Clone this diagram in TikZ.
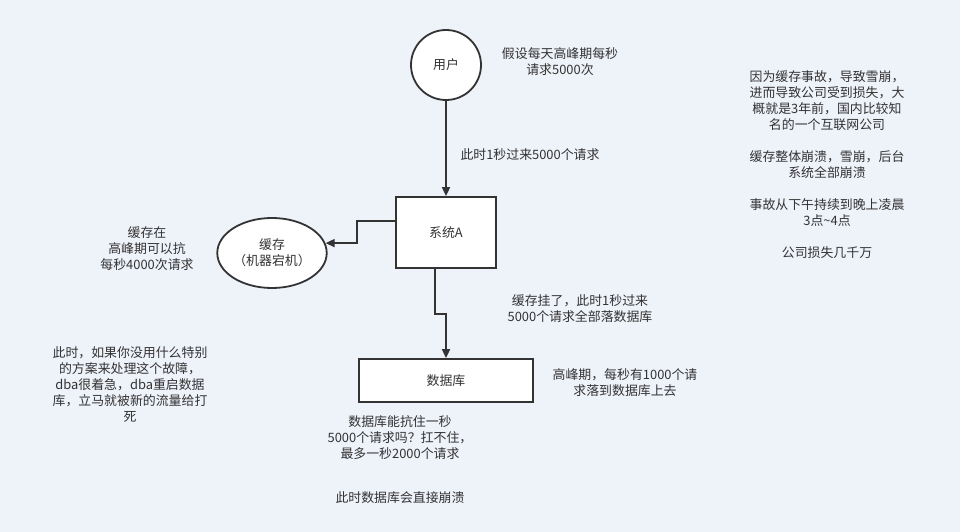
\documentclass[tikz,border=0pt]{standalone}
\usepackage{fontspec}
\setmainfont{Noto Sans CJK SC}
\usetikzlibrary{arrows.meta,shapes.geometric,calc}
\definecolor{bg}{RGB}{238,242,249}
\definecolor{ink}{RGB}{51,51,51}
\begin{document}
\begin{tikzpicture}[x=1pt,y=-1pt,
  every node/.style={text=ink,font=\fontsize{12.9}{16}\selectfont,inner sep=0pt},
  shp/.style={draw=ink,line width=1.8pt,fill=white},
  arr/.style={draw=ink,line width=1.8pt,-{Triangle[length=9pt,width=8pt]}},
  note/.style={align=center}]
\fill[bg] (0,0) rectangle (960,532);
\useasboundingbox (0,0) rectangle (960,532);

\node[shp,circle,minimum size=70pt] (user) at (446,65) {用户};
\node[shp,rectangle,minimum width=100pt,minimum height=71pt] (sysA) at (446,232.5) {系统A};
\node[shp,ellipse,minimum width=102pt,minimum height=70pt,align=center] (cache) at (272,253) {缓存\\（机器宕机）};
\node[shp,rectangle,minimum width=174pt,minimum height=43pt] (db) at (446,380.5) {数据库};

\draw[arr] (user) -- (sysA);
\coordinate (p1) at ($(sysA.north west)+(0,25)$);
\coordinate (p2) at ($(p1)+(-38,0)$);
\coordinate (p3) at ($(p2)+(0,22)$);
\draw[arr] (p1) -- (p2) -- (p3) -- (p3 -| cache.10);
\coordinate (q1) at ($(sysA.south)+(-11,0)$);
\coordinate (q2) at ($(q1)+(0,45)$);
\draw[arr] (q1) -- (q2) -- (q2 -| db.north) -- (db.north);

\node[note] (t1) at (560,62) {假设每天高峰期每秒\\请求5000次};
\node[note] (t2) at (530,155) {此时1秒过来5000个请求};
\node[note] (t3) at (147,249) {缓存在\\高峰期可以抗\\每秒4000次请求};
\node[note] (t4) at (130,384) {此时，如果你没用什么特别\\的方案来处理这个故障，\\dba很着急，dba重启数据\\库，立马就被新的流量给打\\死};
\node[note] (t5) at (827,165) {因为缓存事故，导致雪崩，\\进而导致公司受到损失，大\\概就是3年前，国内比较知\\名的一个互联网公司\\[16pt]缓存整体崩溃，雪崩，后台\\系统全部崩溃\\[16pt]事故从下午持续到晚上凌晨\\3点\textasciitilde 4点\\[16pt]公司损失几千万};
\node[note] (t6) at (580,309) {缓存挂了，此时1秒过来\\5000个请求全部落数据库};
\node[note] (t7) at (625,383) {高峰期，每秒有1000个请\\求落到数据库上去};
\node[note] (t8) at (400,438) {数据库能抗住一秒\\5000个请求吗？扛不住，\\最多一秒2000个请求};
\node[note] (t9) at (400,498) {此时数据库会直接崩溃};
\end{tikzpicture}
\end{document}
